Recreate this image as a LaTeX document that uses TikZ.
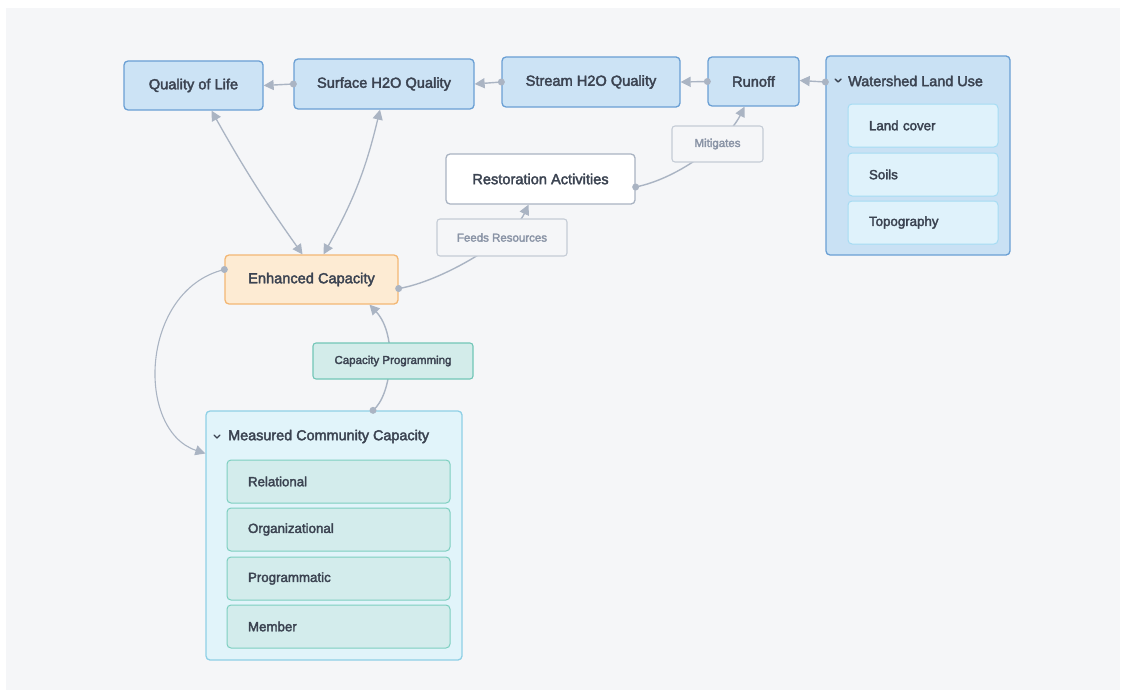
\documentclass[tikz,border=0pt]{standalone}
\usepackage{fontspec}
\setmainfont{Liberation Sans}
\newfontfamily\medfont{Liberation Sans}[FakeBold=2.5]
\usetikzlibrary{arrows.meta}
\definecolor{bgc}{HTML}{F5F6F8}
\definecolor{txt}{HTML}{3B4351}
\definecolor{bluef}{HTML}{CCE3F5}
\definecolor{blued}{HTML}{6A9FD4}
\definecolor{wsf}{HTML}{C9E1F4}
\definecolor{wschf}{HTML}{DFF2FB}
\definecolor{wschd}{HTML}{A6DCF3}
\definecolor{mcf}{HTML}{E1F4FA}
\definecolor{mcd}{HTML}{8FD0E6}
\definecolor{mcchf}{HTML}{D3ECEC}
\definecolor{mcchd}{HTML}{7DCFC0}
\definecolor{orf}{HTML}{FDEBD3}
\definecolor{ord}{HTML}{F3B774}
\definecolor{tealf}{HTML}{D3ECEA}
\definecolor{teald}{HTML}{72C6B7}
\definecolor{restd}{HTML}{A9B3C2}
\definecolor{lbld}{HTML}{C5CCD6}
\definecolor{lblt}{HTML}{8A94A6}
\definecolor{edgec}{HTML}{AAB4C3}
\begin{document}
\begin{tikzpicture}[x=1pt,y=-1pt,
  box/.style={draw, rounded corners=4pt, line width=1.3pt, inner sep=0pt,
    font=\medfont\fontsize{14.6}{17}\selectfont, text=txt},
  bluebox/.style={box, fill=bluef, draw=blued},
  container/.style={draw, rounded corners=4pt, line width=1.3pt, inner sep=0pt},
  hdr/.style={anchor=west, inner sep=0pt, font=\medfont\fontsize{14.4}{17}\selectfont, text=txt},
  child/.style={draw, rounded corners=4pt, line width=1pt, inner xsep=21pt, inner ysep=0pt,
    align=left, minimum height=43pt, font=\medfont\fontsize{13.3}{16}\selectfont, text=txt},
  lbl/.style={draw=lbld, fill=bgc, rounded corners=3pt, line width=1.1pt, inner sep=0pt,
    font=\medfont\fontsize{11.5}{14}\selectfont, text=lblt},
  edge/.style={draw=edgec, line width=1.4pt, -{Triangle[length=10pt,width=10pt]}},
  biedge/.style={draw=edgec, line width=1.3pt, {Triangle[length=10pt,width=10pt]}-{Triangle[length=10pt,width=10pt]}},
  dotc/.style={fill=edgec},
  chev/.style={draw=txt, line width=1.4pt, line cap=round, line join=round}
]
\fill[white] (0,0) rectangle (1121,693);
\fill[bgc] (6,8) rectangle (1120,690);

% main nodes
\node[bluebox, minimum width=139pt, minimum height=49pt] (qol) at (193.5,85.5) {Quality of Life};
\node[bluebox, minimum width=180pt, minimum height=50pt] (surf) at (384,84) {Surface H2O Quality};
\node[bluebox, minimum width=178pt, minimum height=50pt] (stream) at (591,82) {Stream H2O Quality};
\node[bluebox, minimum width=91pt, minimum height=49pt] (runoff) at (753.5,81.5) {Runoff};

\node[container, fill=wsf, draw=blued, minimum width=184pt, minimum height=199pt] (ws) at (918,155.5) {};
\draw[chev] (835,79) -- (838,82) -- (841,79);
\node[hdr] (wst) at (848,81) {Watershed Land Use};
\node[child, fill=wschf, draw=wschd, text width=108pt] (lc) at (923,125.5) {Land cover};
\node[child, fill=wschf, draw=wschd, text width=108pt] (soils) at (923,174.5) {Soils};
\node[child, fill=wschf, draw=wschd, text width=108pt] (topo) at (923,222.5) {Topography};

\node[box, fill=white, draw=restd, minimum width=189pt, minimum height=50pt] (rest) at (540.5,179) {Restoration Activities};
\node[box, fill=orf, draw=ord, minimum width=173pt, minimum height=49pt] (enh) at (311.5,279.5) {Enhanced Capacity};

\node[container, fill=mcf, draw=mcd, minimum width=256pt, minimum height=249pt] (mc) at (334,535.5) {};
\draw[chev] (214,435) -- (217,438) -- (220,435);
\node[hdr] (mct) at (228,436.5) {Measured Community Capacity};
\node[child, fill=mcchf, draw=mcchd, text width=181pt] (rel) at (338.5,481.5) {Relational};
\node[child, fill=mcchf, draw=mcchd, text width=181pt] (org) at (338.5,529.5) {Organizational};
\node[child, fill=mcchf, draw=mcchd, text width=181pt] (prog) at (338.5,578.5) {Programmatic};
\node[child, fill=mcchf, draw=mcchd, text width=181pt] (mem) at (338.5,626.5) {Member};

% connectors
\path[edge] (surf.west) -- (qol.east);
\fill[dotc] (surf.west) circle (3.5pt);
\path[edge] (stream.west) -- (surf.east);
\fill[dotc] (stream.west) circle (3.5pt);
\path[edge] (runoff.west) -- (stream.east);
\fill[dotc] (runoff.west) circle (3.5pt);
\path[edge] ([yshift=-1pt]ws.west |- wst.west) -- ([yshift=1pt]runoff.east);
\fill[dotc] ([yshift=-1pt]ws.west |- wst.west) circle (3.5pt);

\coordinate (restout) at ([yshift=-8pt]rest.east);
\coordinate (runin) at ([xshift=-9pt]runoff.south);
\path[edge] (restout) .. controls (680,178) and (728,140) .. (runin);
\fill[dotc] (restout) circle (3.5pt);

\coordinate (enhout) at ([yshift=-9pt]enh.east);
\coordinate (restin) at ([xshift=-12pt]rest.south);
\path[edge] (enhout) .. controls (440,282) and (512,240) .. (restin);
\fill[dotc] (enhout) circle (3.5pt);

\path[biedge] ([xshift=-9pt]enh.north) to[bend left=3] ([xshift=18pt]qol.south);
\path[biedge] ([xshift=12pt]enh.north) to[bend right=8] ([xshift=-4pt]surf.south);

\coordinate (enhl) at ([yshift=10pt]enh.west);
\coordinate (mcin) at ([yshift=82pt]mc.west);
\path[edge, line width=1.1pt] (enhl) .. controls (140,290) and (135,430) .. (mcin);
\fill[dotc] (enhl) circle (3.5pt);

\coordinate (mcout) at ([xshift=39pt]mc.north);
\coordinate (enhin) at ([xshift=58pt]enh.south);
\path[edge] (mcout) .. controls (392,395) and (398,335) .. (enhin);
\fill[dotc] (mcout) circle (3.5pt);

% edge labels
\node[lbl, minimum width=91pt, minimum height=36pt] (mit) at (717.5,144) {Mitigates};
\node[lbl, minimum width=130pt, minimum height=37pt] (feeds) at (502,237.5) {Feeds Resources};
\node[lbl, fill=tealf, draw=teald, text=txt, minimum width=160pt, minimum height=36pt] (cap) at (393,361) {Capacity Programming};
\end{tikzpicture}
\end{document}
